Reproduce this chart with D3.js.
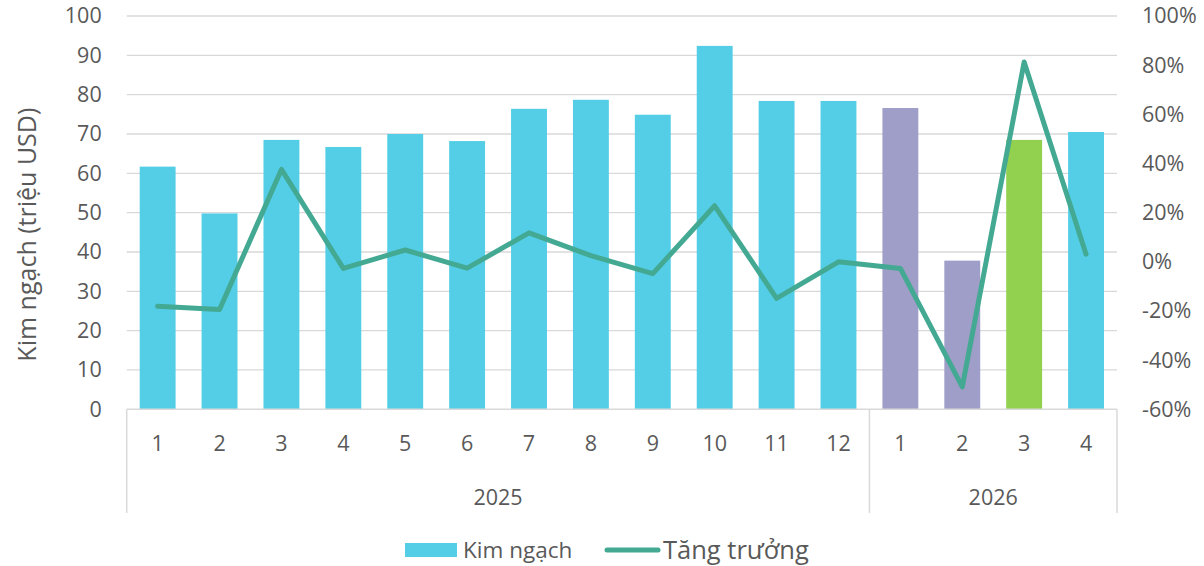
<!DOCTYPE html>
<html>
<head>
<meta charset="utf-8">
<script src="https://cdn.jsdelivr.net/npm/d3@7"></script>
<style>
  html, body { margin: 0; padding: 0; background: #fff; }
  svg { display: block; font-family: "Open Sans", "Noto Sans", sans-serif; }
</style>
</head>
<body>
<svg id="chart" width="1204" height="566"></svg>
<script>
// ---- data ----
const years = ["2025", "2026"];
const months2025 = ["1","2","3","4","5","6","7","8","9","10","11","12"];
const months2026 = ["1","2","3","4"];
const kimNgach2025 = [61.7, 49.8, 68.5, 66.7, 70.0, 68.2, 76.4, 78.7, 74.9, 92.4, 78.4, 78.4];
const kimNgach2026 = [76.6, 37.8, 68.5, 70.5];
const tangTruong2025 = [-18.1, -19.4, 37.6, -2.7, 4.8, -2.6, 11.8, 2.5, -4.8, 22.8, -14.9, 0.0];
const tangTruong2026 = [-2.7, -50.9, 81.3, 3.1];
const leftTicks = [0, 10, 20, 30, 40, 50, 60, 70, 80, 90, 100];
const rightTicks = [-60, -40, -20, 0, 20, 40, 60, 80, 100];
const seriesNames = ["Kim ngạch", "Tăng trưởng"];
const yAxisTitle = "Kim ngạch (triệu USD)";

// ---- styles ----
const cCyan = "#53CEE6", cPurple = "#9F9EC8", cGreen = "#92D050", cLine = "#44A992";
const textColor = "#595959", gridColor = "#D9D9D9";
const barColors2026 = [cPurple, cPurple, cGreen, cCyan];
const tickFont = "21.5px";

// ---- build rows ----
const rows = [];
months2025.forEach((m, i) => rows.push({ key: "2025-" + m, year: years[0], month: m, v: kimNgach2025[i], g: tangTruong2025[i], color: cCyan }));
months2026.forEach((m, i) => rows.push({ key: "2026-" + m, year: years[1], month: m, v: kimNgach2026[i], g: tangTruong2026[i], color: barColors2026[i] }));

const svg = d3.select("#chart");
const pLeft = 126.7, pRight = 1117, pTop = 16, pBottom = 409.3;

const x = d3.scaleBand().domain(rows.map(d => d.key)).range([pLeft, pRight]).paddingInner(0.42).paddingOuter(0.21);
const yL = d3.scaleLinear().domain([0, 100]).range([pBottom, pTop]);
const yR = d3.scaleLinear().domain([-60, 100]).range([pBottom, pTop]);

// gridlines
svg.append("g").selectAll("line").data(leftTicks.filter(t => t > 0)).join("line")
  .attr("x1", pLeft).attr("x2", pRight)
  .attr("y1", d => yL(d)).attr("y2", d => yL(d))
  .attr("stroke", gridColor).attr("stroke-width", 1.3);

// bars
svg.append("g").selectAll("rect").data(rows).join("rect")
  .attr("x", d => x(d.key)).attr("width", x.bandwidth())
  .attr("y", d => yL(d.v)).attr("height", d => yL(0) - yL(d.v))
  .attr("fill", d => d.color);

// left axis
const axL = svg.append("g").attr("transform", `translate(${pLeft},0)`)
  .call(d3.axisLeft(yL).tickValues(leftTicks).tickSize(0).tickPadding(25));
axL.select(".domain").remove();
axL.selectAll("text").attr("fill", textColor).style("font-size", tickFont)
  .style("font-family", "'Open Sans', 'Noto Sans', sans-serif");

// right axis
const axR = svg.append("g").attr("transform", `translate(${pRight},0)`)
  .call(d3.axisRight(yR).tickValues(rightTicks).tickFormat(d => d + "%").tickSize(0).tickPadding(25));
axR.select(".domain").remove();
axR.selectAll("text").attr("fill", textColor).style("font-size", tickFont)
  .style("font-family", "'Open Sans', 'Noto Sans', sans-serif");

// category axis
const axisG = svg.append("g");
axisG.append("line").attr("x1", pLeft).attr("x2", pRight).attr("y1", pBottom).attr("y2", pBottom)
  .attr("stroke", gridColor).attr("stroke-width", 1.5);
const sepX = [pLeft, (x("2025-12") + x.bandwidth() + x("2026-1")) / 2, pRight];
axisG.selectAll("line.sep").data(sepX).join("line").attr("class", "sep")
  .attr("x1", d => d).attr("x2", d => d).attr("y1", pBottom).attr("y2", 513)
  .attr("stroke", gridColor).attr("stroke-width", 1.5);
axisG.selectAll("text.m").data(rows).join("text").attr("class", "m")
  .attr("x", d => x(d.key) + x.bandwidth() / 2).attr("y", 451)
  .attr("text-anchor", "middle").attr("fill", textColor).style("font-size", tickFont)
  .text(d => d.month);
const yearCenters = [(sepX[0] + sepX[1]) / 2, (sepX[1] + sepX[2]) / 2];
axisG.selectAll("text.y").data(years).join("text").attr("class", "y")
  .attr("x", (d, i) => yearCenters[i]).attr("y", 505)
  .attr("text-anchor", "middle").attr("fill", textColor).style("font-size", tickFont)
  .text(d => d);

// line
const line = d3.line().x(d => x(d.key) + x.bandwidth() / 2).y(d => yR(d.g));
svg.append("path").datum(rows).attr("d", line)
  .attr("fill", "none").attr("stroke", cLine).attr("stroke-width", 5)
  .attr("stroke-linejoin", "round").attr("stroke-linecap", "round");

// y axis title
svg.append("text").attr("transform", `translate(36,${(pTop + pBottom) / 2 + 22}) rotate(-90)`)
  .attr("text-anchor", "middle").attr("fill", textColor).style("font-size", "25px")
  .text(yAxisTitle);

// legend
const lg = svg.append("g");
lg.append("rect").attr("x", 405).attr("y", 543).attr("width", 52).attr("height", 14).attr("fill", cCyan);
lg.append("text").attr("x", 463).attr("y", 558).attr("fill", textColor).style("font-size", "22.5px").text(seriesNames[0]);
lg.append("line").attr("x1", 607).attr("x2", 658).attr("y1", 550).attr("y2", 550)
  .attr("stroke", cLine).attr("stroke-width", 5).attr("stroke-linecap", "round");
lg.append("text").attr("x", 663).attr("y", 559).attr("fill", textColor).style("font-size", "25.5px").text(seriesNames[1]);
</script>
</body>
</html>
